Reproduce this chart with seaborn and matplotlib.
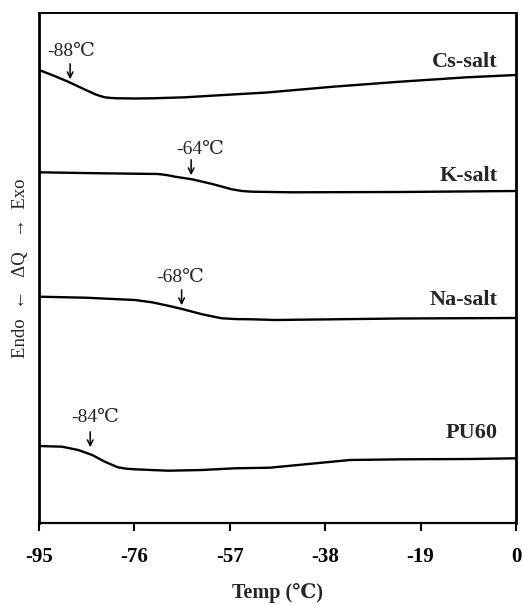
import matplotlib
matplotlib.use("Agg")
import matplotlib.pyplot as plt
import seaborn as sns
import pandas as pd

# ---- data ----
cs_temp = [-95, -92.4, -89.2, -86.4, -83.8, -82.8, -81.9, -80.6, -79.3, -76.0, -72.5, -65.9, -60.6, -49.6, -36.4, -23.1, -9.8, 0]
cs_sig = [453, 448, 441.3, 434.7, 428.7, 427.0, 425.7, 425.0, 424.7, 424.5, 424.7, 425.7, 427.3, 430.5, 436.3, 441.3, 445.7, 448]

k_temp = [-95, -82.5, -71.3, -69.6, -67.9, -64.5, -60.5, -56.6, -54.6, -52.6, -44.6, -23.1, 0]
k_sig = [350.7, 349.7, 349, 348.0, 346.3, 343.7, 339, 333.7, 332.0, 331.3, 330.7, 331, 332]

na_temp = [-95, -85.8, -75.9, -72.5, -69.3, -66.5, -62.5, -58.6, -55.6, -52.6, -48.0, -23.1, 0]
na_sig = [226.3, 225.3, 223, 220.7, 217.3, 214, 208.7, 204.7, 203.9, 203.7, 203, 204.5, 205]

pu_temp = [-95, -90.4, -87.2, -84.4, -81.9, -79.3, -77.6, -75.9, -69.3, -62.5, -56.0, -49.0, -33.1, -22.5, -9.2, 0]
pu_sig = [77, 76.3, 73, 68, 61.3, 55.7, 54.3, 53.7, 52.3, 53, 54.7, 55.3, 63, 63.7, 64, 64.7]

sample_names = ["Cs-salt", "K-salt", "Na-salt", "PU60"]
label_y = [461, 347, 223, 90]
tg_labels = ["-88\u2103", "-64\u2103", "-68\u2103", "-84\u2103"]
tg_arrow_x = [-88.8, -64.7, -66.6, -84.8]
tg_arrow_tip = [441, 345, 215, 73]
tg_text_x = [-88.6, -62.9, -66.9, -83.8]
tg_text_y = [471, 373, 245, 106]

xticks = [-95, -76, -57, -38, -19, 0]

# ---- build long table ----
frames = []
for name, t, s in zip(sample_names, [cs_temp, k_temp, na_temp, pu_temp],
                      [cs_sig, k_sig, na_sig, pu_sig]):
    frames.append(pd.DataFrame({"Temp": t, "Signal": s, "Sample": name}))
df = pd.concat(frames, ignore_index=True)

sns.set_style("ticks")
serif = ["Liberation Serif", "DejaVu Serif", "Noto Sans CJK SC"]
plt.rcParams["font.family"] = serif

fig = plt.figure(figsize=(5.23, 6.05), dpi=100)
ax = fig.add_axes([39 / 523, (605 - 523) / 605, 477 / 523, 510 / 605])

sns.lineplot(data=df, x="Temp", y="Signal", units="Sample", estimator=None,
             color="black", linewidth=1.7, ax=ax, legend=False, sort=False)

ax.set_xlim(-95, 0)
ax.set_ylim(0, 510)
ax.set_xticks(xticks)
ax.set_xticklabels([str(v) for v in xticks], fontsize=15, fontweight="bold", family=serif)
ax.set_yticks([])
ax.tick_params(axis="x", direction="out", length=6, width=1.5, pad=11, colors="black")
for side in ["left", "right", "top", "bottom"]:
    ax.spines[side].set_visible(True)
    ax.spines[side].set_color("black")
ax.spines["left"].set_linewidth(2)
ax.spines["right"].set_linewidth(2)
ax.spines["top"].set_linewidth(1.4)
ax.spines["bottom"].set_linewidth(1.6)

ax.set_xlabel("Temp (\u2103)", fontsize=14.5, fontweight="bold", family=serif, labelpad=12)
ax.set_ylabel("Endo  \u2190   \u0394Q   \u2192  Exo", fontsize=13.5, family=serif, labelpad=7)

for name, y in zip(sample_names, label_y):
    ax.text(-3.6, y, name, ha="right", va="center", fontsize=16, fontweight="bold", family=serif)

for lab, ax_x, tip, tx, ty in zip(tg_labels, tg_arrow_x, tg_arrow_tip, tg_text_x, tg_text_y):
    ax.annotate("", xy=(ax_x, tip), xytext=(ax_x, tip + 21),
                arrowprops=dict(arrowstyle="->", color="black", lw=1.1, mutation_scale=10))
    ax.text(tx, ty, lab, ha="center", va="center", fontsize=14, family=serif)

fig.savefig("out.png", dpi=100)
